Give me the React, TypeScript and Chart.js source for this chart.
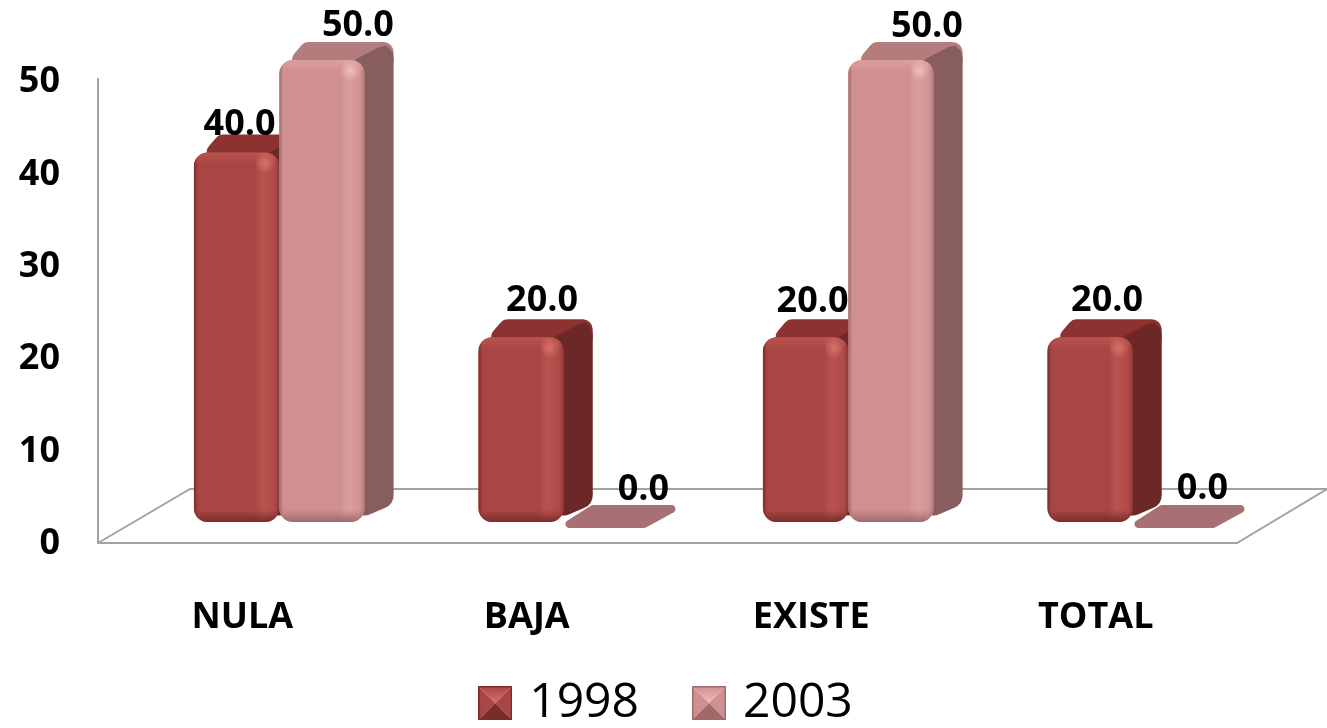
import React, { useEffect, useRef } from "react";
import { Chart, registerables } from "chart.js";

Chart.register(...registerables);

const categories = ["NULA", "BAJA", "EXISTE", "TOTAL"];
const seriesNames = ["1998", "2003"];
const values1998 = [40, 20, 20, 20];
const values2003 = [50, 0, 50, 0];
const yMax = 50;
const yStep = 10;

const palette = [
  { front: "#A94643", side: "#6C2826", top: "#8C3230", hi: "#D9706A", edge: "#7A2C2A", flat: "#8C3230" },
  { front: "#D08F91", side: "#885D5D", top: "#B57C7D", hi: "#F0BDBB", edge: "#A06A6B", flat: "#A87073" },
];

// label nudges relative to the top of each bar (dx per series / category, dy)
const labelNudge = [
  [[3, -28], [21, -36], [7, -35], [17, -36]],
  [[36, -34], [37, -32], [36, -33], [27, -33]],
];

const DX = 29;
const DY = 18;
const R = 14;
const FLOOR_FRONT = 21;
const FLOOR_BACK = 33;

function poly(ctx: CanvasRenderingContext2D, pts: number[][], r: number) {
  const n = pts.length;
  ctx.beginPath();
  const a = pts[n - 1], b = pts[0];
  ctx.moveTo((a[0] + b[0]) / 2, (a[1] + b[1]) / 2);
  for (let i = 0; i < n; i++) {
    const p = pts[i], q = pts[(i + 1) % n];
    ctx.arcTo(p[0], p[1], q[0], q[1], r);
  }
  ctx.closePath();
}

function legendSwatch(c: any) {
  const s = 34;
  const cv = document.createElement("canvas");
  cv.width = s;
  cv.height = s;
  const g = cv.getContext("2d") as CanvasRenderingContext2D;
  const m = s / 2;
  const tri = (pts: number[][], col: any) => {
    g.fillStyle = col;
    g.beginPath();
    pts.forEach((p, i) => (i ? g.lineTo(p[0], p[1]) : g.moveTo(p[0], p[1])));
    g.closePath();
    g.fill();
  };
  const topFace = g.createLinearGradient(0, 0, 0, m);
  topFace.addColorStop(0, c.front);
  topFace.addColorStop(1, c.hi);
  tri([[0, 0], [s, 0], [m, m]], topFace);
  tri([[0, 0], [0, s], [m, m]], c.front);
  tri([[s, 0], [s, s], [m, m]], c.front);
  tri([[0, s], [s, s], [m, m]], c.edge);
  g.strokeStyle = c.edge;
  g.lineWidth = 1.5;
  g.strokeRect(0.75, 0.75, s - 1.5, s - 1.5);
  return cv;
}

function paintSeries(chart: any, index: number) {
  const { ctx } = chart;
  const c = palette[index];
  const meta = chart.getDatasetMeta(index);
  const boxes = meta.data.map((bar: any) => bar.getProps(["x", "y", "base", "width"], true));
  boxes.forEach(({ x, y, base, width }: any) => {
    const l = x - width / 2;
    const r = x + width / 2;
    if (Math.abs(base - y) < 1) {
      ctx.fillStyle = c.flat;
      poly(ctx, [[l - 8, base + 6], [l + 28, base - 17], [r + 38, base - 17], [r - 4, base + 6]], 4);
      ctx.fill();
      return;
    }
    ctx.fillStyle = c.top;
    poly(ctx, [[l + 1, y + 10], [l + DX - 4, y - DY], [r + DX, y - DY], [r + DX, y + 10], [r, y + 10]], 10);
    ctx.fill();
    ctx.fillStyle = c.side;
    poly(ctx, [[r - R, y + 2], [r + DX - 10, y - DY + 3], [r + DX, y - DY + 6], [r + DX, base - DY], [r - R, base + 1]], R);
    ctx.fill();
  });
  meta.controller.draw();
  boxes.forEach(({ x, y, base, width }: any) => {
    if (Math.abs(base - y) < 1) return;
    const l = x - width / 2;
    const r = x + width / 2;
    ctx.save();
    ctx.beginPath();
    ctx.roundRect(l, y, width, base - y, R);
    ctx.clip();
    const gx = ctx.createLinearGradient(l, 0, r, 0);
    gx.addColorStop(0, c.edge);
    gx.addColorStop(0.05, c.front);
    gx.addColorStop(0.72, c.front);
    gx.addColorStop(0.9, c.hi + "20");
    gx.addColorStop(1, c.edge + "AA");
    ctx.fillStyle = gx;
    ctx.fillRect(l, y, width, base - y);
    const gb = ctx.createLinearGradient(0, base - 12, 0, base);
    gb.addColorStop(0, c.edge + "00");
    gb.addColorStop(1, c.edge);
    ctx.fillStyle = gb;
    ctx.fillRect(l, base - 12, width, 12);
    const gt = ctx.createLinearGradient(0, y, 0, y + 12);
    gt.addColorStop(0, c.hi + "55");
    gt.addColorStop(1, c.hi + "00");
    ctx.fillStyle = gt;
    ctx.fillRect(l, y, width, 12);
    const hx = r - 14;
    const hy = y + 11;
    const rg = ctx.createRadialGradient(hx, hy, 0, hx, hy, 10);
    rg.addColorStop(0, c.hi);
    rg.addColorStop(1, c.hi + "00");
    ctx.fillStyle = rg;
    ctx.fillRect(hx - 10, hy - 10, 20, 20);
    ctx.restore();
  });
}

const scene = {
  id: "scene",
  beforeDraw(chart: any) {
    // tick labels are clipped to their scale's box: let them use the full canvas
    chart.scales.y.left = 0;
    chart.scales.x.bottom = chart.height;
  },
  beforeDatasetsDraw(chart: any) {
    const { ctx, chartArea, scales } = chart;
    const base = scales.y.getPixelForValue(0);
    const left = chartArea.left - 39;
    const front = base + FLOOR_FRONT;
    const back = base - FLOOR_BACK;
    const wallTop = scales.y.getPixelForValue(yMax) + 18;
    ctx.save();
    ctx.strokeStyle = "#A3A3A3";
    ctx.lineWidth = 2;
    ctx.beginPath();
    ctx.moveTo(left, wallTop);
    ctx.lineTo(left, front);
    ctx.lineTo(chartArea.right - 38, front);
    ctx.lineTo(chart.width, back);
    ctx.moveTo(chart.width, back);
    ctx.lineTo(left + 92, back);
    ctx.lineTo(left, front);
    ctx.stroke();
    // series are painted back to front: 1998 first, 2003 over it
    paintSeries(chart, 0);
    paintSeries(chart, 1);
    ctx.restore();
  },
  beforeDatasetDraw() {
    return false;
  },
  afterDatasetsDraw(chart: any) {
    const { ctx, data } = chart;
    ctx.save();
    ctx.font = "bold 36px 'Open Sans'";
    ctx.fillStyle = "#000";
    ctx.textAlign = "center";
    ctx.textBaseline = "middle";
    data.datasets.forEach((ds: any, di: number) => {
      chart.getDatasetMeta(di).data.forEach((bar: any, i: number) => {
        const [dx, dy] = labelNudge[di][i];
        ctx.fillText(ds.data[i].toFixed(1), bar.x + dx, bar.y + dy);
      });
    });
    ctx.restore();
  },
};

export default function App() {
  const ref = useRef<HTMLCanvasElement>(null);
  useEffect(() => {
    document.body.style.margin = "0";
    document.body.style.background = "#fff";
    const swatches = palette.map(legendSwatch);
    const chart = new Chart(ref.current as HTMLCanvasElement, {
      type: "bar",
      data: {
        labels: categories,
        datasets: [
          { label: seriesNames[0], data: values1998, backgroundColor: palette[0].front },
          { label: seriesNames[1], data: values2003, backgroundColor: palette[1].front },
        ],
      },
      plugins: [scene],
      options: {
        responsive: false,
        animation: false,
        events: [],
        layout: { padding: { top: 60, left: 63, right: 52, bottom: -9 } },
        datasets: {
          bar: {
            categoryPercentage: 0.6,
            barPercentage: 1,
            borderRadius: R,
            borderSkipped: false,
          },
        },
        scales: {
          x: {
            afterFit: (s: any) => {
              s.height = 97;
              s.paddingLeft = 0;
              s.paddingRight = 0;
            },
            grid: { display: false, drawTicks: false },
            border: { display: false },
            ticks: {
              color: "#000",
              font: { family: "'Open Sans'", weight: "bold", size: 36 },
              padding: 74,
              labelOffset: -37,
              maxRotation: 0,
            },
          },
          y: {
            min: 0,
            max: yMax,
            afterFit: (s: any) => {
              s.width = 74;
              s.paddingTop = 0;
              s.paddingBottom = 0;
            },
            grid: { display: false, drawTicks: false },
            border: { display: false },
            ticks: {
              stepSize: yStep,
              color: "#000",
              font: { family: "'Open Sans'", weight: "bold", size: 36 },
              padding: 77,
              labelOffset: 22,
            },
          },
        },
        plugins: {
          tooltip: { enabled: false },
          legend: {
            position: "bottom",
            labels: {
              usePointStyle: true,
              boxWidth: 34,
              boxHeight: 34,
              pointStyleWidth: 20,
              padding: 60,
              color: "#000",
              font: { family: "'Open Sans'", size: 48 },
              generateLabels: (c: any) =>
                c.data.datasets.map((d: any, i: number) => ({
                  text: d.label,
                  pointStyle: swatches[i],
                  datasetIndex: i,
                  hidden: false,
                  lineWidth: 0,
                  fillStyle: "transparent",
                  strokeStyle: "transparent",
                })),
            },
          },
        },
      },
    } as any);
    return () => chart.destroy();
  }, []);
  return (
    <div style={{ width: 1327, height: 728 }}>
      <canvas ref={ref} width={1327} height={728} style={{ display: "block" }} />
    </div>
  );
}
